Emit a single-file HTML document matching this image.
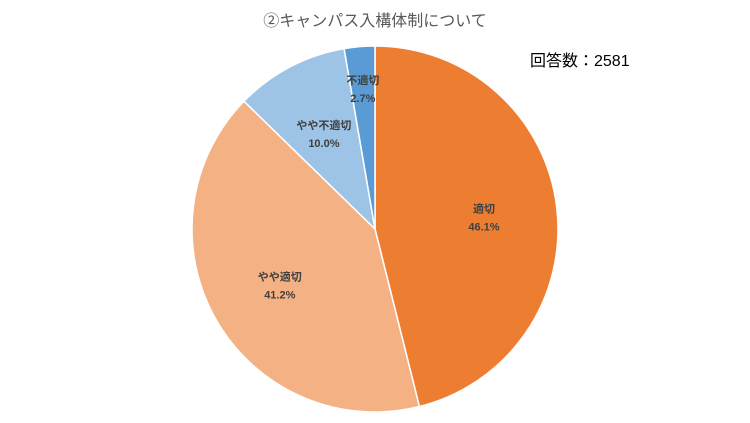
<!DOCTYPE html>
<html><head><meta charset="utf-8"><style>
body{margin:0;background:#fff;}
svg{display:block;font-family:"Liberation Sans","Noto Sans CJK JP",sans-serif;}
</style></head><body>
<svg width="750" height="423" viewBox="0 0 750 423">
<rect width="750" height="423" fill="#fff"/>
<text x="375" y="26" text-anchor="middle" font-size="16" fill="#595959">②キャンパス入構体制について</text>
<text x="530" y="66" font-size="16" fill="#000">回答数：2581</text>
<g id="slices"></g>
<g id="labels"></g>
</svg>
<script>
const categories=["適切","やや適切","やや不適切","不適切"];
const values=[46.1,41.2,10.0,2.7];
const valueLabels=["46.1%","41.2%","10.0%","2.7%"];
const colors=["#ED7D31","#F4B183","#9DC3E6","#5B9BD5"];
const cx=375,cy=229,r=183;
const ns="http://www.w3.org/2000/svg";
const total=values.reduce((a,b)=>a+b,0);
const sg=document.getElementById("slices"),lg=document.getElementById("labels");
let a0=0;
values.forEach((v,i)=>{
  const a1=a0+v/total*2*Math.PI;
  const x0=cx+r*Math.sin(a0),y0=cy-r*Math.cos(a0),x1=cx+r*Math.sin(a1),y1=cy-r*Math.cos(a1);
  const p=document.createElementNS(ns,"path");
  p.setAttribute("d",`M${cx},${cy}L${x0},${y0}A${r},${r} 0 ${a1-a0>Math.PI?1:0} 1 ${x1},${y1}Z`);
  p.setAttribute("fill",colors[i]);p.setAttribute("stroke","#fff");p.setAttribute("stroke-width","1.5");
  
  
  sg.appendChild(p);
  const am=(a0+a1)/2, lr=i===3?0.78*r:0.6*r;
  const lx=cx+lr*Math.sin(am), ly=cy-lr*Math.cos(am);
  const t1=document.createElementNS(ns,"text");
  t1.setAttribute("x",lx);t1.setAttribute("y",ly-3);t1.setAttribute("text-anchor","middle");
  t1.setAttribute("font-size","11");t1.setAttribute("font-weight","bold");t1.setAttribute("fill","#404040");
  t1.textContent=categories[i];
  
  
  lg.appendChild(t1);
  const t2=document.createElementNS(ns,"text");
  t2.setAttribute("x",lx);t2.setAttribute("y",ly+15);t2.setAttribute("text-anchor","middle");
  t2.setAttribute("font-size","11");t2.setAttribute("font-weight","bold");t2.setAttribute("fill","#404040");
  t2.textContent=valueLabels[i];
  
  
  lg.appendChild(t2);
  a0=a1;
});
</script>
</body></html>
